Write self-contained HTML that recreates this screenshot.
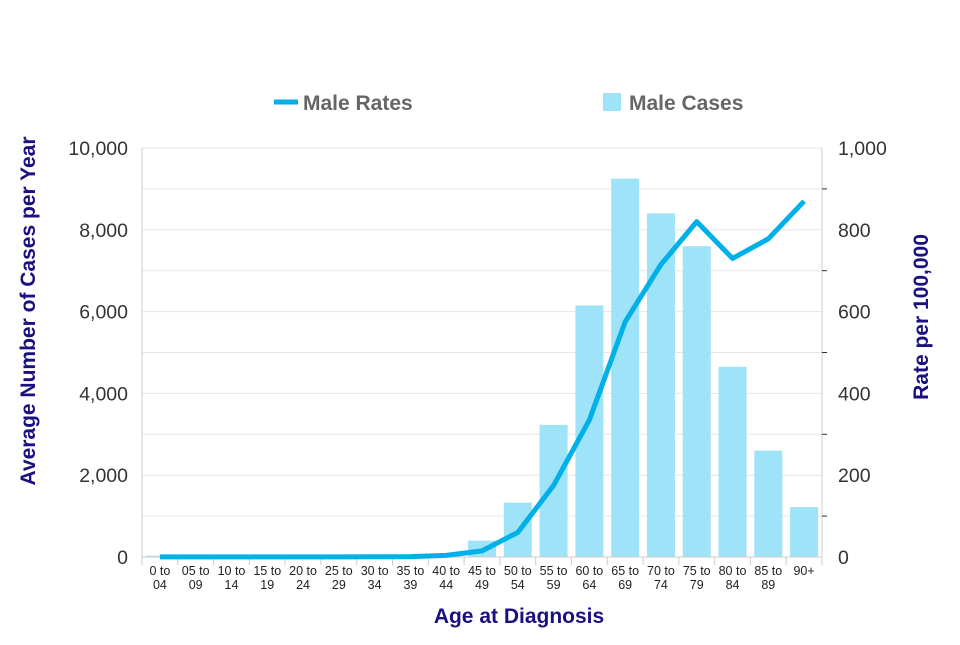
<!DOCTYPE html>
<html><head><meta charset="utf-8"><style>
body{margin:0;background:#fff;}
svg text{font-family:"Liberation Sans",Arial,sans-serif;}
</style></head><body>
<svg width="960" height="640" xmlns="http://www.w3.org/2000/svg">
<g id="grid"></g><g id="bars"></g><g id="axes"></g><g id="line"></g>
<g>
 <line x1="274" y1="102" x2="298" y2="102" stroke="#00b0e8" stroke-width="5"/>
 <text x="303" y="110" font-size="21" font-weight="bold" fill="#666">Male Rates</text>
 <rect x="603" y="93" width="18" height="18" fill="#9ee3f7"/>
 <text x="629" y="110" font-size="21" font-weight="bold" fill="#666">Male Cases</text>
</g>
<text transform="translate(35,311) rotate(-90)" text-anchor="middle" font-size="21" font-weight="bold" fill="#1a1080">Average Number of Cases per Year</text>
<text transform="translate(928,317) rotate(-90)" text-anchor="middle" font-size="21" font-weight="bold" fill="#1a1080">Rate per 100,000</text>
<text x="519" y="623" text-anchor="middle" font-size="21" font-weight="bold" fill="#1a1080">Age at Diagnosis</text>
</svg>
<script>
const categories=[["0 to","04"],["05 to","09"],["10 to","14"],["15 to","19"],["20 to","24"],["25 to","29"],["30 to","34"],["35 to","39"],["40 to","44"],["45 to","49"],["50 to","54"],["55 to","59"],["60 to","64"],["65 to","69"],["70 to","74"],["75 to","79"],["80 to","84"],["85 to","89"],["90+",""]];
const cases=[30,5,5,5,5,8,10,20,60,400,1330,3230,6150,9250,8400,7600,4650,2600,1220];
const rates=[0.3,0.2,0.2,0.2,0.3,0.4,0.6,1,4,15,60,175,335,575,715,820,730,778,870];
const leftTicks=[0,2000,4000,6000,8000,10000];
const rightTicks=[0,200,400,600,800,1000];
const NS="http://www.w3.org/2000/svg";
const X0=142,X1=822,Y0=557,Y1=148;
const bw=(X1-X0)/categories.length;
const xC=i=>X0+bw*(i+0.5);
const yL=v=>Y0-(v/10000)*(Y0-Y1);
const yR=v=>Y0-(v/1000)*(Y0-Y1);
function mk(tag,attrs,parent,txt){const e=document.createElementNS(NS,tag);for(const k in attrs)e.setAttribute(k,attrs[k]);if(txt!==undefined)e.textContent=txt;document.getElementById(parent).appendChild(e);return e;}
for(let v=0;v<=10000;v+=1000){
 const g=mk('line',{x1:X0,x2:X1,y1:yL(v),y2:yL(v),stroke:'#e6e6e6','stroke-width':1},'grid');
 
 
}
cases.forEach((v,i)=>{
 const r=mk('rect',{x:xC(i)-14,y:yL(v),width:28,height:Y0-yL(v),fill:'#9ee3f7'},'bars');
 
 
});
let a=mk('line',{x1:X0,x2:X0,y1:Y1,y2:Y0+8,stroke:'#ccc'},'axes');


a=mk('line',{x1:X1,x2:X1,y1:Y1,y2:Y0+8,stroke:'#ccc'},'axes');


a=mk('line',{x1:X0,x2:X1,y1:Y0,y2:Y0,stroke:'#ccc'},'axes');


leftTicks.forEach(v=>{
 const t=mk('text',{x:X0-14,y:yL(v)+7,'text-anchor':'end','font-size':19.5,fill:'#333'},'axes',v.toLocaleString('en-US'));
 
 
});
rightTicks.forEach(v=>{
 const t=mk('text',{x:X1+16,y:yR(v)+7,'font-size':19.5,fill:'#333'},'axes',v.toLocaleString('en-US'));
 
 
});
for(let v=100;v<1000;v+=200){
 const t=mk('line',{x1:X1,x2:X1+5,y1:yR(v),y2:yR(v),stroke:'#333'},'axes');
 
 
}
categories.forEach((c,i)=>{
 const tk=mk('line',{x1:X0+bw*(i+1),x2:X0+bw*(i+1),y1:Y0,y2:Y0+8,stroke:'#ccc'},'axes');
 
 
 const t1=mk('text',{x:xC(i),y:575,'text-anchor':'middle','font-size':12.5,fill:'#222'},'axes',c[0]);
 
 
 const t2=mk('text',{x:xC(i),y:589,'text-anchor':'middle','font-size':12.5,fill:'#222'},'axes',c[1]);
 
 
});
const pts=rates.map((v,i)=>xC(i)+','+yR(v)).join(' ');
const pl=mk('polyline',{points:pts,fill:'none',stroke:'#00b0e8','stroke-width':5,'stroke-linejoin':'round'},'line');


</script>
</body></html>
